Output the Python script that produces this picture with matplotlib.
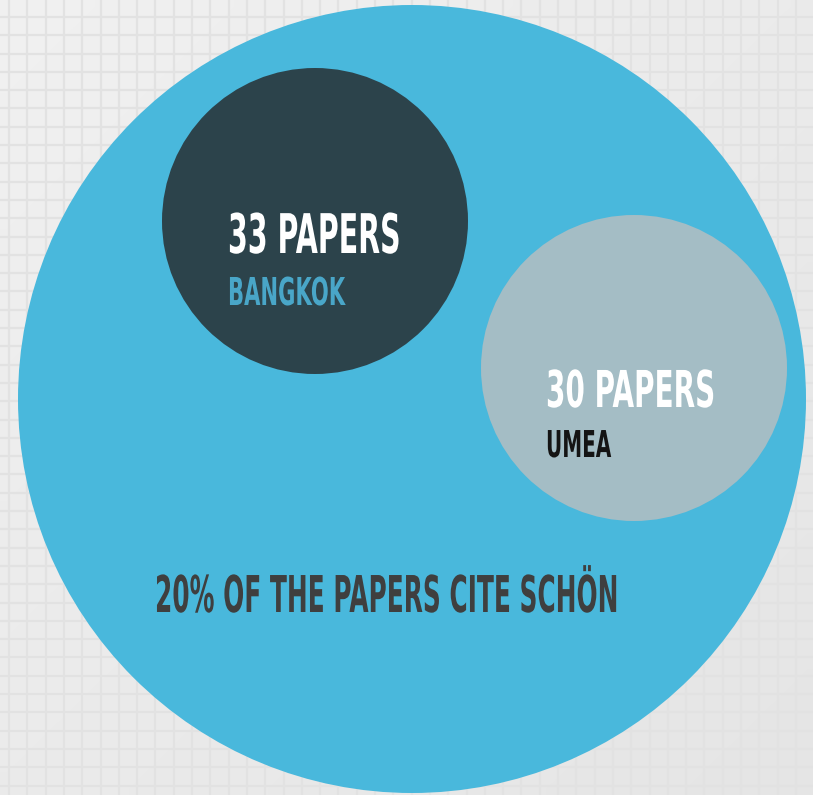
#!/usr/bin/env python3
"""bubble infographic: papers citing Schön, Bangkok vs Umea"""
import matplotlib
matplotlib.use('Agg')
import matplotlib.pyplot as plt
import numpy as np
from matplotlib.patches import Circle
from matplotlib.patheffects import AbstractPathEffect
from matplotlib.transforms import Affine2D

# data
cities = ['BANGKOK', 'UMEA']
paper_counts = [33, 30]
cite_share = 20  # percent
cited_author = 'SCHÖN'

# layout (pixel space, y down)
W, H = 813, 795
big_center, big_radius = (412, 399), 394
city_centers = [(315, 221), (634, 368)]
city_radius = 153
GRID = '#e2e2e2'
BIG = '#49b8dc'
city_fill = ['#2c434b', '#a4bdc5']
city_label = ['#49a6c8', '#141414']


class Tall(AbstractPathEffect):
	"""stretch glyphs vertically about the baseline origin (condensed look)"""
	def __init__(self, sy):
		super().__init__()
		self._sy = sy

	def draw_path(self, renderer, gc, tpath, affine, rgbFace=None):
		x0, y0 = affine.transform((0, 0))
		st = Affine2D().translate(-x0, -y0).scale(1.0, self._sy).translate(x0, y0)
		renderer.draw_path(gc, tpath, affine + st, rgbFace)


def label(ax, x, y, s, size, color, sy):
	ax.text(x, y, s, fontsize=size, color=color, fontweight='bold',
		family='DejaVu Sans', ha='left', va='baseline',
		path_effects=[Tall(sy)], zorder=5)


def main():
	fig = plt.figure(figsize=(W / 100, H / 100), dpi=100)
	ax = fig.add_axes([0, 0, 1, 1])
	ax.set_xlim(0, W)
	ax.set_ylim(H, 0)
	ax.axis('off')

	# paper background: soft diagonal shade + square grid
	gx, gy = np.meshgrid(np.linspace(0, 1, 64), np.linspace(0, 1, 64))
	shade = 0.94 - 0.045 * (gx + gy) / 2
	ax.imshow(shade, cmap='gray', vmin=0, vmax=1, extent=(0, W, H, 0),
		interpolation='bilinear', zorder=0, aspect='auto')
	step = 18.3
	ax.vlines(np.arange(9, W, step), 0, H, color=GRID, lw=1.6, zorder=1)
	ax.hlines(np.arange(17, H, step), 0, W, color=GRID, lw=1.6, zorder=1)

	ax.add_patch(Circle(big_center, big_radius, color=BIG, lw=0, zorder=2))
	for c, fc in zip(city_centers, city_fill):
		ax.add_patch(Circle(c, city_radius, color=fc, lw=0, zorder=3))

	# bubble labels
	label(ax, 228, 253, f'{paper_counts[0]} PAPERS', 20.5, 'white', 1.92)
	label(ax, 228, 305, cities[0], 15.2, city_label[0], 1.82)
	label(ax, 546, 407, f'{paper_counts[1]} PAPERS', 20.1, 'white', 1.82)
	label(ax, 546, 457, cities[1], 14.4, city_label[1], 1.85)
	label(ax, 155, 612, f'{cite_share}% OF THE PAPERS CITE {cited_author}', 17.9, '#3f3f3f', 2.04)

	fig.savefig('out.png', dpi=100)


if __name__ == '__main__':
	main()
